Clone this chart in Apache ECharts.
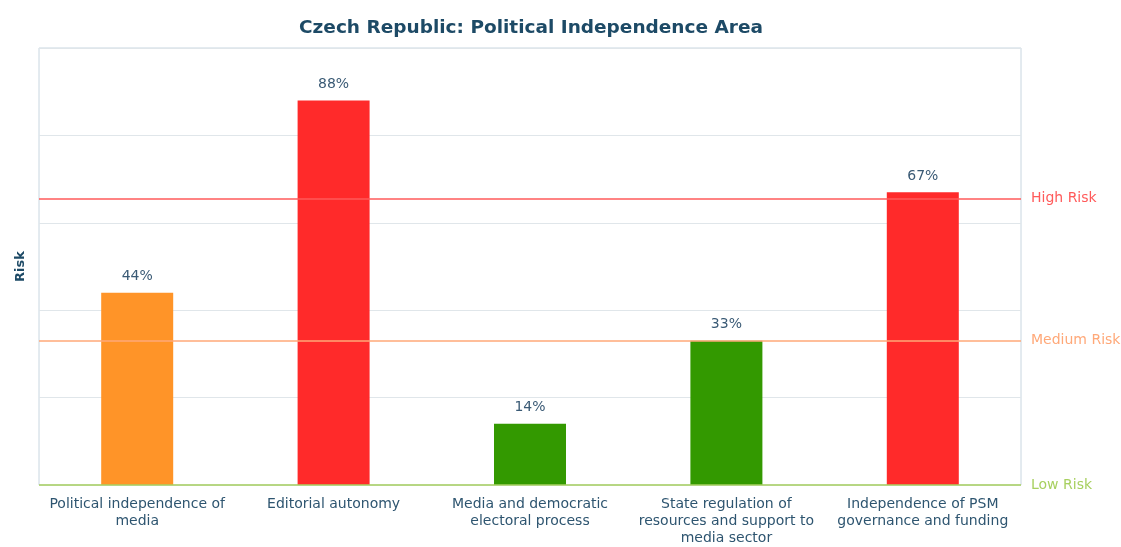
<!DOCTYPE html>
<html><head><meta charset="utf-8">
<script src="https://cdn.jsdelivr.net/npm/echarts@6/dist/echarts.min.js"></script>
<style>html,body{margin:0;padding:0;background:#fff}#c{width:1121px;height:547px}</style>
</head><body><div id="c"></div>
<script>
const categories = ["Political independence of\nmedia","Editorial autonomy","Media and democratic\nelectoral process","State regulation of\nresources and support to\nmedia sector","Independence of PSM\ngovernance and funding"];
const values = [44, 88, 14, 33, 67];
const barColors = ["#ff9428", "#ff2a2a", "#339900", "#339900", "#ff2a2a"];
const thresholdNames = ["Low Risk", "Medium Risk", "High Risk"];
const thresholdValues = [0, 33, 65.5];
const thresholdColors = ["#a8d060", "#ffa878", "#ff5a5a"];

const chart = echarts.init(document.getElementById('c'), null, {renderer:'canvas'});
const font = "DejaVu Sans";
chart.setOption({
  animation: false,
  title: {text: "Czech Republic: Political Independence Area", left: 294, top: 14,
    textStyle: {fontFamily: font, fontWeight: 'bold', fontSize: 18.5, color: '#1d4a66'}},
  grid: {left: 39, right: 100, top: 48, bottom: 58, show: true, borderColor: '#c8d6e0', borderWidth: 1},
  xAxis: {type: 'category', data: categories,
    axisLine: {show: false}, axisTick: {show: false},
    axisLabel: {fontFamily: font, fontSize: 14, color: '#2e5570', lineHeight: 17, margin: 11, interval: 0}},
  yAxis: {type: 'value', min: 0, max: 100, interval: 20,
    name: 'Risk', nameLocation: 'middle', nameGap: 12, nameRotate: 90,
    nameTextStyle: {fontFamily: font, fontWeight: 'bold', fontSize: 13, color: '#1d4a66'},
    axisLabel: {show: false}, axisLine: {show: false}, axisTick: {show: false},
    splitLine: {lineStyle: {color: '#e0e6ea'}}},
  series: [{
    type: 'bar', barWidth: 72,
    data: values.map((v, i) => ({value: v, itemStyle: {color: barColors[i]}})),
    label: {show: true, position: 'top', distance: 9, formatter: '{c}%',
      fontFamily: font, fontSize: 14, color: '#3a5a75'},
    markLine: {silent: true, symbol: ['none', 'none'],
      data: thresholdValues.map((v, i) => ({yAxis: v,
        lineStyle: {color: thresholdColors[i], type: 'solid', width: 1.6, opacity: 1},
        label: {show: true, position: 'end', formatter: thresholdNames[i], distance: 10,
          color: thresholdColors[i], fontFamily: font, fontSize: 14}}))}
  }]
});
</script></body></html>
